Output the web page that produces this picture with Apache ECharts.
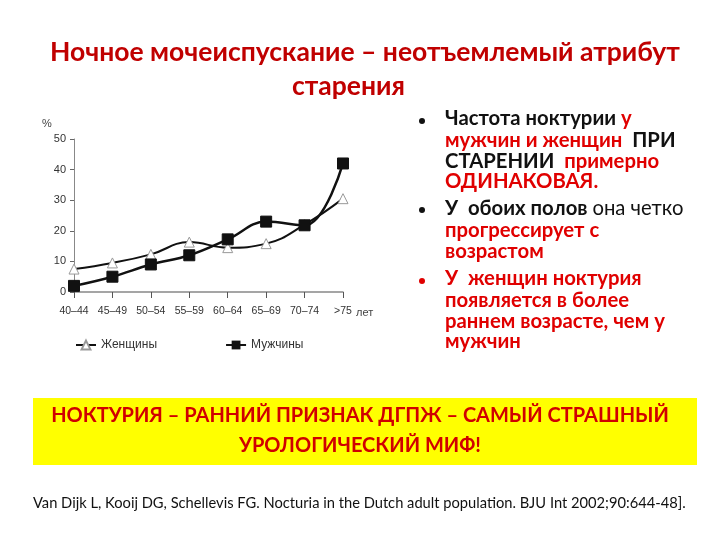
<!DOCTYPE html>
<html><head><meta charset="utf-8">
<script src="https://cdn.jsdelivr.net/npm/echarts@6/dist/echarts.min.js"></script>
<style>html,body{margin:0;padding:0;background:#fff}#c{width:720px;height:540px}</style>
</head><body><div id="c"></div>
<script>
const ageGroups = ['40–44','45–49','50–54','55–59','60–64','65–69','70–74','>75'];
const women = [7.5, 9.5, 12.3, 16.3, 14.5, 15.8, 22, 30.5];
const men = [2, 5, 9, 12, 17.2, 23, 21.8, 42];
const yTicks = [0, 10, 20, 30, 40, 50];
const seriesNames = ['Женщины', 'Мужчины'];

const RED = '#E00000';
const BLK = '#111';
const F = 'Lato, "Open Sans", sans-serif';
const CF = '"Liberation Sans", Arial, sans-serif';
const FS = 20.3;

function line(yc, segs) {
  const rich = {
    b: {fill: BLK, fontWeight: 'bold', fontSize: FS, fontFamily: F},
    r: {fill: RED, fontWeight: 'bold', fontSize: FS, fontFamily: F},
    n: {fill: BLK, fontWeight: 'normal', fontSize: FS, fontFamily: F}
  };
  return {type: 'text', left: 445, top: yc - 12, style: {
    text: segs.map(s => '{' + s[0] + '|' + s[1] + '}').join(''), rich: rich
  }};
}
function dot(yc, c) {
  return {type: 'circle', shape: {cx: 422, cy: yc, r: 3}, style: {fill: c}};
}
const titleStyle = {color: '#C00000', fontSize: 26.5, fontWeight: 'bold', fontFamily: F};

const chart = echarts.init(document.getElementById('c'));
chart.setOption({
  backgroundColor: '#fff',
  animation: false,
  title: [
    {text: 'Ночное мочеиспускание – неотъемлемый атрибут', left: 45, top: 34, textStyle: titleStyle},
    {text: 'старения', left: 287, top: 68, textStyle: titleStyle}
  ],
  grid: {left: 74, right: 377, top: 139, bottom: 248},
  legend: {
    left: 70, top: 334, itemGap: 68, itemWidth: 20, itemHeight: 11,
    textStyle: {fontFamily: CF, fontSize: 12, color: '#333'},
    data: seriesNames
  },
  xAxis: {
    type: 'category', data: ageGroups, boundaryGap: false,
    axisLine: {lineStyle: {color: '#888', width: 1.5}},
    axisTick: {show: true, alignWithLabel: true, interval: 0, length: 6, lineStyle: {color: '#555'}},
    axisLabel: {fontFamily: CF, fontSize: 10.5, color: '#333', margin: 14, interval: 0}
  },
  yAxis: {
    type: 'value', min: 0, max: 50, interval: 10,
    axisLine: {show: true, lineStyle: {color: '#888', width: 1}},
    axisTick: {show: true, length: 4, lineStyle: {color: '#666'}},
    splitLine: {show: false},
    axisLabel: {fontFamily: CF, fontSize: 11, color: '#333', margin: 8,
      formatter: v => yTicks.indexOf(v) >= 0 ? String(v) : ''}
  },
  series: [
    {name: seriesNames[0], type: 'line', data: women, smooth: 0.45,
     symbol: 'triangle', symbolSize: 10,
     itemStyle: {color: '#fff', borderColor: '#999', borderWidth: 1},
     lineStyle: {color: '#111', width: 2}, z: 2},
    {name: seriesNames[1], type: 'line', data: men, smooth: 0.4,
     symbol: 'rect', symbolSize: 11,
     itemStyle: {color: '#111', borderColor: '#111'},
     lineStyle: {color: '#111', width: 2.5}, z: 3}
  ],
  graphic: [
    {type: 'text', left: 42, top: 118, style: {text: '%', font: '11px ' + CF, fill: '#444'}},
    {type: 'text', left: 356, top: 307, style: {text: 'лет', font: '11px ' + CF, fill: '#444'}},
    dot(121, BLK), dot(210, BLK), dot(281, RED),
    line(120, [['b','Частота ноктурии '],['r','у']]),
    line(142, [['r','мужчин и женщин '],['b',' ПРИ']]),
    line(163, [['b','СТАРЕНИИ  '],['r','примерно']]),
    line(183, [['r','ОДИНАКОВАЯ.']]),
    line(210, [['b','У  обоих полов '],['n','она четко']]),
    line(232, [['r','прогрессирует с']]),
    line(253, [['r','возрастом']]),
    line(280, [['r','У  женщин ноктурия']]),
    line(302, [['r','появляется в более']]),
    line(323, [['r','раннем возрасте, чем у']]),
    line(343, [['r','мужчин']]),
    {type: 'rect', left: 33, top: 398, shape: {width: 664, height: 67}, style: {fill: '#FFFF00'}},
    {type: 'text', left: 'center', top: 406, style: {
      text: 'НОКТУРИЯ – РАННИЙ ПРИЗНАК ДГПЖ – САМЫЙ СТРАШНЫЙ',
      font: 'bold 20px ' + F, fill: '#D00000'}},
    {type: 'text', left: 'center', top: 436, style: {
      text: 'УРОЛОГИЧЕСКИЙ МИФ!',
      font: 'bold 20px ' + F, fill: '#D00000'}},
    {type: 'text', left: 33, top: 496, style: {
      text: 'Van Dijk L, Kooij DG, Schellevis FG. Nocturia in the Dutch adult population. BJU Int 2002;90:644-48].',
      font: '14.7px ' + F, fill: '#111'}}
  ]
});
</script>
</body></html>
